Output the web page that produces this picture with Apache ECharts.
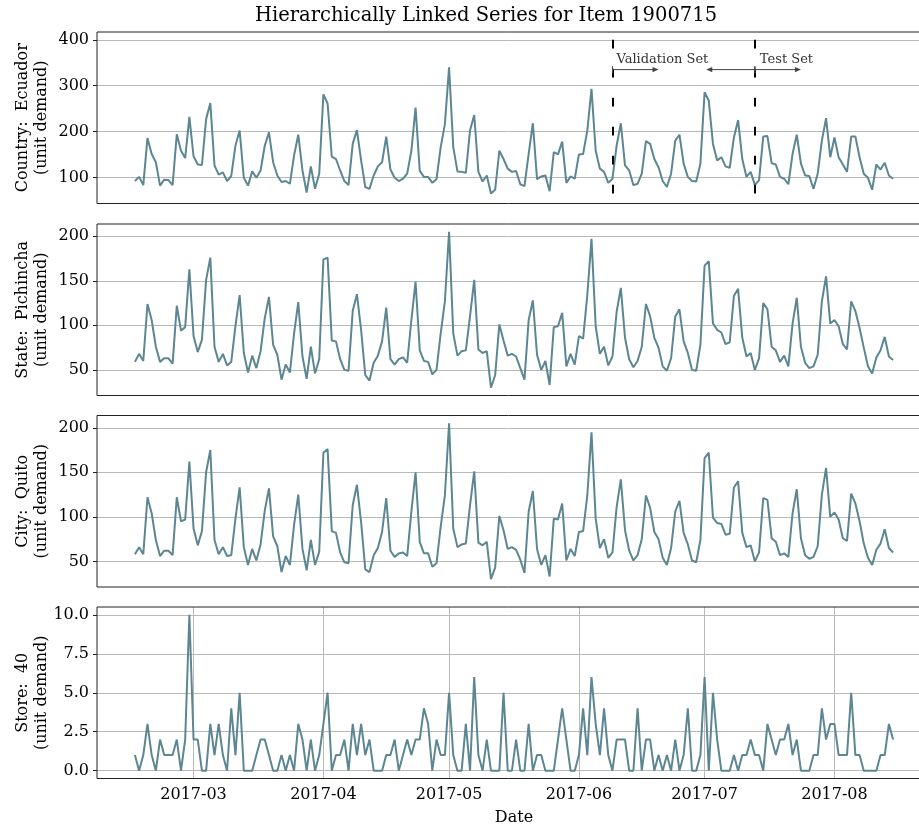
<!DOCTYPE html>
<html><head><meta charset="utf-8">
<script src="https://cdn.jsdelivr.net/npm/echarts@6/dist/echarts.min.js"></script>
<style>html,body{margin:0;padding:0;background:#fff}#c{width:919px;height:826px}</style>
</head><body><div id="c"></div>
<script>
// ---- data ----
const startDate = '2017-02-15'; // daily series, one value per day
const countryValues = [92,101,83,186,151,133,82,95,94,83,194,158,142,232,146,128,127,227,262,126,106,111,92,103,169,202,99,82,113,99,115,169,198,133,104,90,92,86,148,193,115,67,124,75,108,281,261,145,140,115,92,83,173,203,137,79,75,104,124,133,189,117,99,92,97,108,158,252,114,101,101,88,96,166,216,340,166,113,112,110,202,236,112,91,104,65,73,158,140,119,112,114,85,81,151,218,96,102,104,70,155,150,178,88,102,97,150,151,202,293,158,119,112,88,97,169,218,126,115,83,86,108,179,173,140,122,92,79,108,180,193,130,101,92,91,130,286,267,173,137,144,124,121,187,225,140,101,112,83,94,189,190,131,128,101,97,85,151,193,130,104,103,75,108,180,229,144,187,144,128,112,189,189,144,108,99,73,128,117,132,104,97];
const stateValues = [59,68,60,124,106,76,59,63,63,57,122,94,98,163,88,70,84,151,176,76,59,68,55,59,99,134,69,47,66,52,71,108,132,78,67,39,56,47,91,126,65,40,76,46,62,174,176,83,82,62,50,49,116,135,95,44,38,58,66,82,120,62,56,62,64,58,106,149,72,60,59,45,50,91,127,205,91,66,71,72,110,151,73,69,71,30,44,101,83,66,68,65,52,39,106,128,67,50,60,33,98,99,114,54,68,56,88,85,134,197,99,68,76,55,65,115,142,86,62,53,60,76,124,110,86,75,54,49,63,110,118,82,69,50,49,78,167,172,102,95,92,79,81,133,141,86,65,69,50,63,125,118,76,72,59,66,54,102,131,76,58,52,54,67,127,155,102,106,99,79,73,127,116,97,75,54,46,64,72,87,65,61];
const cityValues = [58,66,58,122,104,74,56,62,62,57,122,95,97,162,87,68,84,150,175,74,58,66,56,57,98,133,66,46,64,51,69,107,132,78,67,38,56,46,91,125,64,40,74,46,61,172,176,84,82,60,49,48,113,136,94,41,38,57,65,83,121,62,55,59,60,56,106,150,72,59,59,44,48,89,124,205,87,66,69,70,113,151,71,68,72,30,43,101,85,64,66,63,52,37,106,129,64,46,57,33,98,97,115,51,64,56,83,84,124,195,98,65,75,54,60,111,142,85,62,51,57,75,124,110,83,75,54,46,65,106,118,82,69,51,49,74,166,172,99,93,92,80,81,133,140,82,66,68,50,60,121,119,76,72,57,59,55,104,131,76,57,53,55,67,125,155,100,105,97,76,73,126,115,95,70,54,46,63,70,86,65,60];
const storeValues = [1,0,1,3,1,0,2,1,1,1,2,0,2,10,2,2,0,0,3,1,3,1,0,4,1,5,0,0,0,1,2,2,1,0,0,1,0,1,0,3,2,0,2,0,1,3,5,0,1,1,2,0,3,1,3,1,2,0,0,0,1,1,2,0,1,2,1,2,2,4,3,0,2,1,1,5,1,0,0,3,0,6,1,0,2,0,0,0,5,0,0,2,0,0,3,0,1,1,0,0,0,2,4,2,0,0,1,4,1,6,3,1,4,1,0,2,2,2,0,0,4,0,2,2,0,1,0,1,0,2,0,1,4,0,0,1,6,0,5,2,0,0,0,1,0,1,1,2,1,1,0,3,2,1,2,2,3,1,2,0,0,0,1,1,4,2,3,3,1,1,1,5,1,1,0,0,0,0,1,1,3,2];
const panelNames = ['Country:  Ecuador\n(unit demand)', 'State:  Pichincha\n(unit demand)', 'City:  Quito\n(unit demand)', 'Store:  40\n(unit demand)'];
const countryTicks = [100, 200, 300, 400];
const stateTicks = [50, 100, 150, 200];
const cityTicks = [50, 100, 150, 200];
const storeTicks = [0, 2.5, 5, 7.5, 10];
const monthTicks = ['2017-03-01', '2017-04-01', '2017-05-01', '2017-06-01', '2017-07-01', '2017-08-01'];
const validationStart = '2017-06-09';
const testStart = '2017-07-13';
const titleText = 'Hierarchically Linked Series for Item 1900715';

// ---- build ----
const DAY = 86400000;
const toTs = s => { const p = s.split('-').map(Number); return Date.UTC(p[0], p[1] - 1, p[2]); };
const t0 = toTs(startDate);
const dates = countryValues.map((_, i) => t0 + i * DAY);
const span = dates[dates.length - 1] - dates[0];
const xMin = dates[0] - 0.05 * span, xMax = dates[dates.length - 1] + 0.05 * span;
const monthTs = monthTicks.map(toTs);
const F = "'DejaVu Serif', serif";
const LINE = '#5b8692';
const GRIDC = '#b9b9b9';

const panels = [
  { values: countryValues, ticks: countryTicks, min: 43, max: 417, step: 100, dec: 0 },
  { values: stateValues, ticks: stateTicks, min: 21.25, max: 213.75, step: 50, dec: 0 },
  { values: cityValues, ticks: cityTicks, min: 21.25, max: 213.75, step: 50, dec: 0 },
  { values: storeValues, ticks: storeTicks, min: -0.5, max: 10.5, step: 2.5, dec: 1 }
];
const tops = [32, 224, 415.5, 607];
const H = 171.5;

const fmtMonth = v => { const d = new Date(v); return d.getUTCFullYear() + '-' + String(d.getUTCMonth() + 1).padStart(2, '0'); };

const option = {
  animation: false,
  backgroundColor: '#fff',
  textStyle: { fontFamily: F },
  title: { text: titleText, left: 486, top: 6, textAlign: 'center', padding: 0,
    textStyle: { fontFamily: F, fontSize: 19.5, fontWeight: 'normal', color: '#000' } },
  grid: panels.map((p, k) => ({ left: 97, right: -12, top: tops[k], height: H, show: true, z: 5,
    backgroundColor: 'transparent', borderColor: '#222', borderWidth: 1, containLabel: false, outerBoundsMode: 'none' })),
  xAxis: panels.map((p, k) => {
    const bottom = k === panels.length - 1;
    return {
      gridIndex: k, type: 'value', min: xMin, max: xMax, scale: true,
      axisLine: { show: false },
      axisTick: { show: bottom, customValues: monthTs, length: 4, lineStyle: { color: '#222', width: 1 } },
      axisLabel: { show: bottom, customValues: monthTs, formatter: fmtMonth, fontSize: 16, fontFamily: F, color: '#000', margin: 8 },
      splitLine: { show: false },
      name: bottom ? 'Date' : '', nameLocation: 'middle', nameGap: 31, nameMoveOverlap: false,
      nameTextStyle: { fontSize: 16, fontFamily: F, color: '#000' }
    };
  }),
  yAxis: panels.map((p, k) => ({
    gridIndex: k, type: 'value', min: p.min, max: p.max, minInterval: p.step, maxInterval: p.step,
    axisLine: { show: false },
    axisTick: { show: true, customValues: p.ticks, length: 4, lineStyle: { color: '#222', width: 1 } },
    axisLabel: { customValues: p.ticks, formatter: v => v.toFixed(p.dec), fontSize: 16, fontFamily: F, color: '#000', margin: 8 },
    splitLine: { show: true, lineStyle: { color: GRIDC, width: 1 } },
    name: panelNames[k], nameLocation: 'middle', nameRotate: 90, nameGap: 46, nameMoveOverlap: false,
    nameTextStyle: { fontSize: 16, lineHeight: 19, fontFamily: F, color: '#000', align: 'center' }
  })),
  series: panels.map((p, k) => {
    const s = {
      type: 'line', xAxisIndex: k, yAxisIndex: k, silent: true, z: 3,
      data: dates.map((d, i) => [d, p.values[i]]),
      showSymbol: false, symbol: 'none',
      lineStyle: { color: LINE, width: 2 }, itemStyle: { color: LINE }
    };
    if (k === 0) {
      s.markLine = {
        silent: true, symbol: ['none', 'none'], label: { show: false },
        lineStyle: { color: '#000', width: 2, type: [8.7, 20.3] },
        emphasis: { disabled: true },
        data: [
          [{ coord: [toTs(validationStart), 400] }, { coord: [toTs(validationStart), 60] }],
          [{ coord: [toTs(testStart), 400] }, { coord: [toTs(testStart), 60] }]
        ]
      };
    }
    if (k === panels.length - 1) {
      s.markLine = {
        silent: true, z: 1, symbol: ['none', 'none'], label: { show: false },
        lineStyle: { color: GRIDC, width: 1, type: 'solid' },
        emphasis: { disabled: true },
        data: monthTs.map(t => ({ xAxis: t }))
      };
    }
    return s;
  })
};

const chart = echarts.init(document.getElementById('c'), null, { renderer: 'canvas' });
chart.setOption(option);

// ---- annotations (data coordinates -> pixels) ----
const P = (d, v) => chart.convertToPixel({ gridIndex: 0 }, [d, v]);
const vTs = toTs(validationStart), tTs = toTs(testStart);
const arrowV = 335, textV = 357;
const AC = '#444';
function arrow(s, e) {
  const dir = Math.sign(e[0] - s[0]);
  return [
    { type: 'line', z: 100, shape: { x1: s[0], y1: s[1], x2: e[0] - dir * 2, y2: e[1] }, style: { stroke: AC, lineWidth: 1 } },
    { type: 'line', z: 100, shape: { x1: s[0], y1: s[1] - 3.5, x2: s[0], y2: s[1] + 3.5 }, style: { stroke: AC, lineWidth: 1 } },
    { type: 'polygon', z: 100, shape: { points: [[e[0], e[1]], [e[0] - dir * 6, e[1] - 2.6], [e[0] - dir * 6, e[1] + 2.6]] }, style: { fill: AC } }
  ];
}
const tv = P(vTs, textV), tt = P(tTs, textV);
const graphics = [].concat(
  arrow(P(vTs, arrowV), P(vTs + 11 * DAY, arrowV)),
  arrow(P(tTs, arrowV), P(tTs - 11.6 * DAY, arrowV)),
  arrow(P(tTs, arrowV), P(tTs + 11 * DAY, arrowV)),
  [
    { type: 'text', z: 100, x: tv[0] + 4, y: tv[1], style: { text: 'Validation Set', font: "13px 'DejaVu Serif', serif", fill: '#333', align: 'left', verticalAlign: 'middle' } },
    { type: 'text', z: 100, x: tt[0] + 5, y: tt[1], style: { text: 'Test Set', font: "13px 'DejaVu Serif', serif", fill: '#333', align: 'left', verticalAlign: 'middle' } }
  ]
);
chart.setOption({ graphic: graphics });
</script>
</body></html>
